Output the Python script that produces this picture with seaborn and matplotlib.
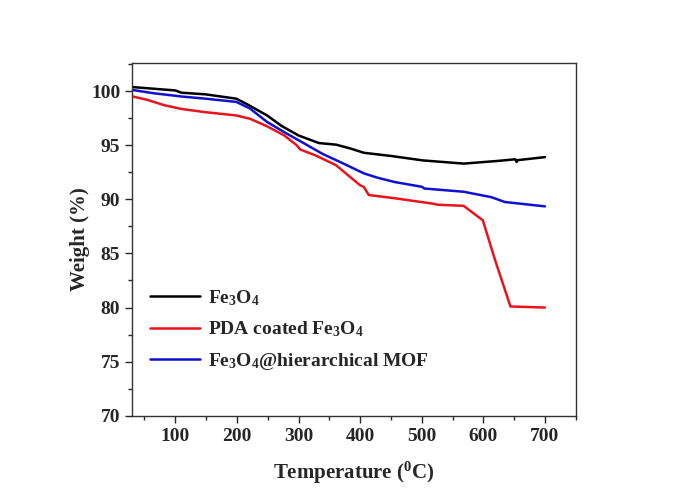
import numpy as np
import pandas as pd
import matplotlib
matplotlib.use('Agg')
import matplotlib.pyplot as plt
import seaborn as sns
from matplotlib.ticker import MultipleLocator

# TGA curves
fe_temp = [31, 100, 110, 149, 199, 216, 249, 272, 300, 333, 361, 384, 406, 451, 501, 568, 624, 652, 654, 656, 700]
fe_weight = [100.37, 100.06, 99.85, 99.7, 99.3, 98.8, 97.75, 96.8, 95.9, 95.2, 95.05, 94.7, 94.3, 94.0, 93.6, 93.3, 93.55, 93.7, 93.45, 93.62, 93.9]

pda_temp = [31, 54, 82, 110, 149, 199, 221, 249, 277, 297, 303, 328, 361, 400, 406, 414, 456, 518, 526, 568, 596, 599, 619, 644, 700]
pda_weight = [99.5, 99.2, 98.7, 98.35, 98.05, 97.75, 97.45, 96.75, 95.9, 95.0, 94.6, 94.05, 93.15, 91.3, 91.15, 90.4, 90.1, 89.6, 89.5, 89.4, 88.2, 88.1, 84.4, 80.1, 80.0]

mof_temp = [31, 65, 110, 149, 199, 221, 249, 277, 305, 339, 373, 406, 428, 456, 501, 504, 568, 613, 635, 700]
mof_weight = [100.1, 99.8, 99.5, 99.3, 99.0, 98.4, 97.15, 96.2, 95.3, 94.2, 93.3, 92.4, 92.0, 91.6, 91.15, 91.0, 90.7, 90.2, 89.75, 89.35]

labels = ["Fe$_3$O$_4$", "PDA coated Fe$_3$O$_4$", "Fe$_3$O$_4$@hierarchical MOF"]
colors = ["black", "#e8141c", "#1010d0"]

df = pd.concat([
    pd.DataFrame({"T": fe_temp, "W": fe_weight, "sample": labels[0]}),
    pd.DataFrame({"T": pda_temp, "W": pda_weight, "sample": labels[1]}),
    pd.DataFrame({"T": mof_temp, "W": mof_weight, "sample": labels[2]}),
])

sns.set_style("ticks")
plt.rcParams['font.family'] = ['Liberation Serif', 'DejaVu Serif']
plt.rcParams['font.weight'] = 'bold'
plt.rcParams['mathtext.fontset'] = 'custom'
plt.rcParams['mathtext.rm'] = 'Liberation Serif:bold'
plt.rcParams['mathtext.it'] = 'Liberation Serif:bold'
plt.rcParams['mathtext.default'] = 'rm'

fig = plt.figure(figsize=(6.92, 4.88), dpi=100)
ax = fig.add_axes([0.191, 0.148, 0.641, 0.723])

sns.lineplot(data=df, x="T", y="W", hue="sample", palette=dict(zip(labels, colors)),
             sort=False, estimator=None, linewidth=1.8, ax=ax)

ax.set_xlim(30, 750)
ax.set_ylim(70, 102.6)
ax.xaxis.set_major_locator(MultipleLocator(100))
ax.xaxis.set_minor_locator(MultipleLocator(50))
ax.yaxis.set_major_locator(MultipleLocator(5))
ax.yaxis.set_minor_locator(MultipleLocator(2.5))
ax.set_xticks([100, 200, 300, 400, 500, 600, 700])
ax.tick_params(which='major', direction='out', length=5, width=1, labelsize=14)
ax.tick_params(which='minor', direction='out', length=3, width=1)
for lab in ax.get_xticklabels() + ax.get_yticklabels():
    lab.set_fontweight('bold')
for sp in ax.spines.values():
    sp.set_linewidth(1.0)
    sp.set_color('#333333')

ax.set_xlabel("Temperature ($^0$C)", fontsize=15, fontweight='bold', labelpad=11)
ax.set_ylabel("Weight (%)", fontsize=15, fontweight='bold', labelpad=1)

leg = ax.legend(loc='lower left', bbox_to_anchor=(0.0, 0.075), frameon=False, fontsize=14,
                handlelength=2.6, handletextpad=0.4, labelspacing=0.6)
for t in leg.get_texts():
    t.set_fontweight('bold')

fig.savefig("out.png", dpi=100)
